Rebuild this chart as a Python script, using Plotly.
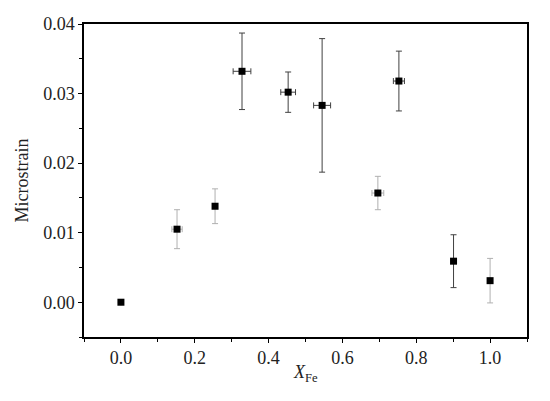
import plotly.graph_objects as go

x_fe = [0.0, 0.152, 0.255, 0.328, 0.453, 0.545, 0.696, 0.753, 0.901, 1.0]
microstrain = [0.0, 0.0105, 0.0138, 0.0332, 0.0302, 0.0283, 0.0157, 0.0318, 0.0059, 0.0031]
y_err = [0.0, 0.0028, 0.0025, 0.0055, 0.0029, 0.0096, 0.0024, 0.0043, 0.0038, 0.0032]
x_err = [0.0, 0.014, 0.006, 0.024, 0.020, 0.023, 0.016, 0.015, 0.0, 0.0]
dark_group = [3, 4, 5, 7, 8]
light_group = [0, 1, 2, 6, 9]

x_ticks = [0.0, 0.2, 0.4, 0.6, 0.8, 1.0]
y_ticks = [0.00, 0.01, 0.02, 0.03, 0.04]

FONT = "Liberation Serif"

fig = go.Figure()


def add_group(idx, color):
    fig.add_trace(go.Scatter(
        x=[x_fe[i] for i in idx],
        y=[microstrain[i] for i in idx],
        mode="markers",
        marker=dict(symbol="square", size=7, color="black"),
        error_y=dict(type="data", array=[y_err[i] for i in idx], visible=True,
                     color=color, thickness=1, width=3),
        error_x=dict(type="data", array=[x_err[i] for i in idx], visible=True,
                     color=color, thickness=1, width=3),
        showlegend=False,
    ))


add_group(light_group, "#b0b0b0")
add_group(dark_group, "#404040")

axis_common = dict(
    showline=True, linecolor="black", linewidth=1.5, mirror=True,
    ticks="outside", ticklen=4, tickwidth=1.2, tickcolor="black",
    showgrid=False, zeroline=False,
    tickfont=dict(family=FONT, size=18, color="#222"),
)

fig.update_xaxes(
    range=[-0.1, 1.1], tickvals=x_ticks, ticktext=[f"{v:.1f}" for v in x_ticks],
    minor=dict(ticks="outside", ticklen=3, tickcolor="black", dtick=0.1, tick0=0),
    **axis_common,
)
fig.update_yaxes(
    range=[-0.005, 0.04], tickvals=y_ticks, ticktext=[f"{v:.2f}" for v in y_ticks],
    minor=dict(ticks="outside", ticklen=3, tickcolor="black", dtick=0.005, tick0=0),
    **axis_common,
)

title_font = dict(family=FONT, size=18, color="#222")
fig.add_annotation(text="Microstrain", xref="paper", yref="paper", x=0, y=0.5,
                   xanchor="center", yanchor="middle", xshift=-63, textangle=-90,
                   showarrow=False, font=title_font)
fig.add_annotation(text="<i>X</i><sub>Fe</sub>", xref="paper", yref="paper", x=0.5, y=0,
                   xanchor="center", yanchor="middle", yshift=-36,
                   showarrow=False, font=title_font)

fig.update_layout(
    width=550, height=401,
    margin=dict(l=84, r=23, t=24, b=64),
    plot_bgcolor="white", paper_bgcolor="white",
)

# remove the default 8px page margin so figure pixels map to the window directly
fig.write_html("out.html", config={"displayModeBar": False},
               post_script="document.body.style.margin='0';")
